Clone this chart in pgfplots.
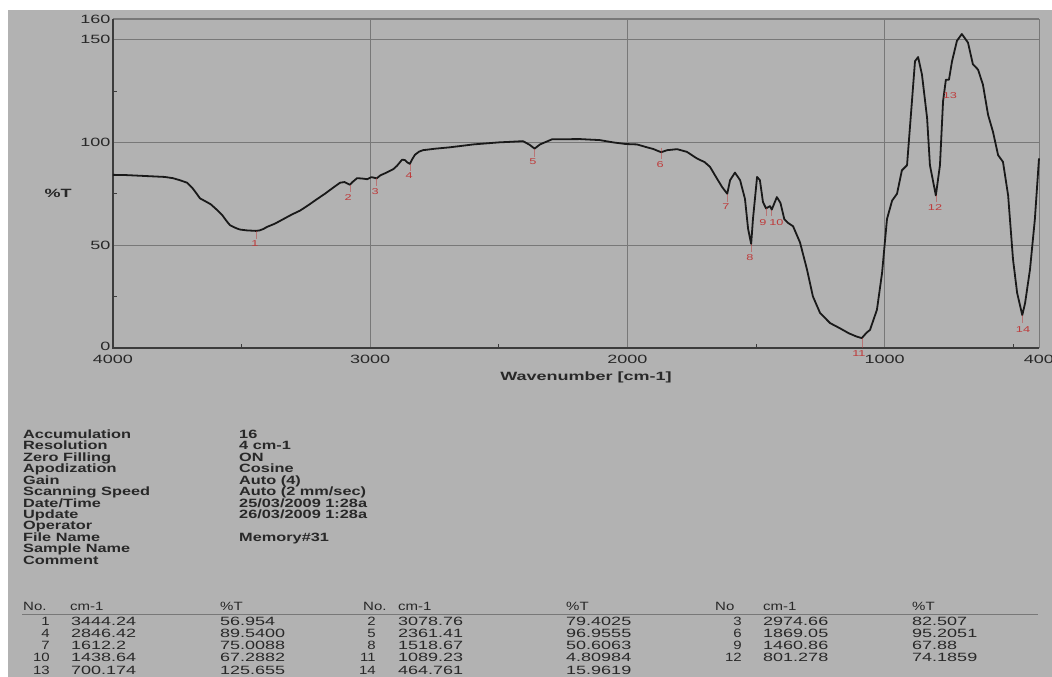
\documentclass[border=0pt]{standalone}
\usepackage{fontspec}
\setmainfont{Liberation Sans}
\usepackage{graphicx}
\usepackage{pgfplots}
\usepackage{pgfplotstable}
\pgfplotsset{compat=1.18}

\definecolor{paper}{RGB}{178,178,178}
\definecolor{ink}{RGB}{40,40,40}
\definecolor{curve}{RGB}{25,25,25}
\definecolor{gridgray}{RGB}{120,120,120}
\definecolor{axisdark}{RGB}{60,60,60}
\definecolor{peakred}{RGB}{190,60,60}

% wide printer-style lettering
\newcommand{\W}[1]{\scalebox{1.5}[1]{#1}}
\newcommand{\B}[1]{\scalebox{1.36}[1]{\bfseries #1}}
\newcommand{\N}[1]{\scalebox{1.25}[1]{#1}}
\newcommand{\T}{\fontsize{12bp}{14bp}\selectfont}
\newcommand{\Pk}{\fontsize{8.5bp}{10bp}\selectfont}

% FT-IR spectrum: wavenumber [cm-1], transmittance [%T]
\pgfplotstableread{
wn    T
4000  84.2
3950  84.1
3900  83.8
3850  83.5
3800  83.2
3767  82.6
3740  81.6
3712  80.4
3690  77.6
3675  75.1
3662  72.8
3640  71.3
3620  69.9
3596  67.2
3575  64.6
3560  62.0
3545  59.7
3520  58.2
3506  57.6
3480  57.2
3444  56.95
3430  57.2
3415  57.9
3401  58.9
3370  60.5
3339  62.6
3305  64.9
3273  66.8
3240  69.5
3207  72.4
3175  75.1
3145  77.9
3117  80.4
3100  80.7
3079  79.4
3070  80.6
3051  82.6
3030  82.4
3012  82.1
2995  83.1
2975  82.5
2960  84.0
2935  85.4
2910  87.0
2896  88.6
2876  91.6
2865  91.4
2856  90.3
2846  89.54
2838  91.5
2826  94.0
2810  95.5
2795  96.2
2750  96.9
2690  97.6
2600  99.0
2500  100.0
2450  100.3
2406  100.6
2380  98.8
2361  96.96
2340  99.0
2293  101.5
2184  101.6
2107  101.1
2056  100.0
2006  99.2
1963  99.0
1924  97.6
1900  96.8
1869  95.21
1846  96.2
1807  96.7
1769  95.4
1730  92.2
1700  90.4
1679  88.1
1652  82.4
1632  78.3
1612  75.01
1601  81.6
1582  85.3
1562  81.6
1543  72.5
1531  58.0
1519  50.61
1512  62.7
1496  83.2
1485  81.6
1473  70.9
1461  67.88
1446  69.0
1439  67.29
1419  73.4
1405  70.5
1390  62.6
1375  60.8
1356  59.2
1329  51.3
1302  38.2
1279  25.1
1251  17.0
1212  12.1
1174  9.6
1140  7.2
1110  5.6
1089  4.81
1070  7.5
1057  8.8
1030  18.6
1010  36.6
991   62.7
971   71.7
952   75.0
933   86.4
913   88.9
894   119.9
882   139.5
870   141.5
855   133.0
835   111.8
824   88.9
801   74.19
785   88.9
773   120.0
762   130.5
750   130.5
738   139.5
719   149.4
700   152.7
676   148.5
657   138.0
637   135.4
618   128.1
598   113.4
579   105.2
559   93.8
540   90.5
520   74.2
501   43.1
485   26.8
465   15.96
454   21.9
435   38.2
416   62.7
400   92.2
}\spectrum

\begin{document}
\begin{tikzpicture}
\useasboundingbox (0,0) rectangle (1052bp,-677bp);
\fill[white] (0,0) rectangle (1052bp,-677bp);
\fill[paper] (8bp,-10bp) rectangle (1052bp,-677bp);

\begin{axis}[
  at={(113bp,-348bp)}, anchor=south west,
  scale only axis, width=926bp, height=329bp,
  x dir=reverse, xmin=400, xmax=4000, ymin=0, ymax=160,
  axis line style={draw=none},
  clip=false,
  xtick={4000,3000,2000,1000,400},
  xticklabels={\W{4000},\W{3000},\W{2000},\W{1000},\W{400}},
  ytick={0,50,100,150,160},
  yticklabels={\raisebox{4bp}{\W{0}},\W{50},\W{100},\W{150},\W{160}},
  minor xtick={3500,2500,1500,500},
  minor ytick={25,75,125},
  xtick pos=bottom, ytick pos=left,
  tick align=inside,
  major tick length=6bp, minor tick length=4bp,
  tick style={draw=axisdark, line width=0.8bp},
  xticklabel style={font=\T, text=ink, yshift=-4bp},
  yticklabel style={font=\T, text=ink, xshift=1bp},
]
% grid
\draw[gridgray, line width=0.7bp]
  (axis cs:3000,0) -- (axis cs:3000,160)
  (axis cs:2000,0) -- (axis cs:2000,160)
  (axis cs:1000,0) -- (axis cs:1000,160)
  (axis cs:4000,50) -- (axis cs:400,50)
  (axis cs:4000,100) -- (axis cs:400,100)
  (axis cs:4000,150) -- (axis cs:400,150);
% frame
\draw[gridgray, line width=1.8bp] (axis cs:4000,160) -- (axis cs:400,160);
\draw[gridgray, line width=0.7bp] (axis cs:400,160) -- (axis cs:400,0);
\draw[axisdark, line width=1.6bp] (axis cs:4000,160) -- (axis cs:4000,0) -- (axis cs:400,0);

\addplot[curve, line width=1.8bp, line join=round] table[x=wn, y=T] {\spectrum};

% peak pick markers
\draw[peakred, opacity=0.5, line width=0.5bp]
  (axis cs:3444,56.9) -- (axis cs:3444,53)
  (axis cs:3079,79.4) -- (axis cs:3079,76)
  (axis cs:2975,82.5) -- (axis cs:2975,79)
  (axis cs:2846,89.5) -- (axis cs:2846,86)
  (axis cs:2361,96.9) -- (axis cs:2361,93)
  (axis cs:1869,97.5) -- (axis cs:1869,92)
  (axis cs:1612,75.0) -- (axis cs:1612,71)
  (axis cs:1519,50.6) -- (axis cs:1519,46.5)
  (axis cs:1461,67.9) -- (axis cs:1461,64)
  (axis cs:1439,67.3) -- (axis cs:1439,64)
  (axis cs:1089,4.8) -- (axis cs:1089,0)
  (axis cs:801,74.2) -- (axis cs:801,71)
  (axis cs:465,15.9) -- (axis cs:465,12);
\begin{scope}[every node/.style={text=peakred, font=\Pk, inner sep=0pt}]
\node at (axis cs:3448,50.6) {\W{1}};
\node at (axis cs:3086,73.0) {\W{2}};
\node at (axis cs:2981,75.9) {\W{3}};
\node at (axis cs:2849,83.7) {\W{4}};
\node at (axis cs:2367,90.5) {\W{5}};
\node at (axis cs:1873,89.0) {\W{6}};
\node at (axis cs:1617,68.6) {\W{7}};
\node at (axis cs:1524,43.8) {\W{8}};
\node at (axis cs:1473,60.8) {\W{9}};
\node at (axis cs:1421,60.8) {\W{10}};
\node at (axis cs:1100,-2.6) {\W{11}};
\node at (axis cs:804,68.1) {\W{12}};
\node at (axis cs:746,122.6) {\W{13}};
\node at (axis cs:462,8.8) {\W{14}};
\end{scope}
\end{axis}

% axis titles
\node[text=ink, font=\fontsize{12bp}{14bp}\selectfont\bfseries, anchor=west] at (41bp,-193bp) {\W{\%T}};
\node[text=ink, font=\fontsize{12bp}{14bp}\selectfont\bfseries] at (586bp,-377bp) {\W{Wavenumber [cm-1]}};

% measurement parameters
\begin{scope}[every node/.style={text=ink, font=\T, anchor=base west, inner sep=0pt}]
\node at (23bp,-438.3bp) {\B{Accumulation}};
\node at (23bp,-449.8bp) {\B{Resolution}};
\node at (23bp,-461.2bp) {\B{Zero Filling}};
\node at (23bp,-472.7bp) {\B{Apodization}};
\node at (23bp,-484.1bp) {\B{Gain}};
\node at (23bp,-495.6bp) {\B{Scanning Speed}};
\node at (23bp,-507.0bp) {\B{Date/Time}};
\node at (23bp,-518.5bp) {\B{Update}};
\node at (23bp,-529.9bp) {\B{Operator}};
\node at (23bp,-541.4bp) {\B{File Name}};
\node at (23bp,-552.8bp) {\B{Sample Name}};
\node at (23bp,-564.3bp) {\B{Comment}};
\node at (239bp,-438.3bp) {\B{16}};
\node at (239bp,-449.8bp) {\B{4 cm-1}};
\node at (239bp,-461.2bp) {\B{ON}};
\node at (239bp,-472.7bp) {\B{Cosine}};
\node at (239bp,-484.1bp) {\B{Auto (4)}};
\node at (239bp,-495.6bp) {\B{Auto (2 mm/sec)}};
\node at (239bp,-507.0bp) {\B{25/03/2009 1:28a}};
\node at (239bp,-518.5bp) {\B{26/03/2009 1:28a}};
\node at (239bp,-541.4bp) {\B{Memory\#31}};
\end{scope}

% peak table
\draw[gridgray, line width=0.9bp] (22bp,-614bp) -- (1038bp,-614bp);
\begin{scope}[every node/.style={text=ink, font=\T, inner sep=0pt}]
\node[anchor=base west] at (23bp,-610.3bp) {\N{No.}};
\node[anchor=base west] at (70bp,-610.3bp) {\N{cm-1}};
\node[anchor=base west] at (220bp,-610.3bp) {\N{\%T}};
\node[anchor=base west] at (363bp,-610.3bp) {\N{No.}};
\node[anchor=base west] at (398bp,-610.3bp) {\N{cm-1}};
\node[anchor=base west] at (566bp,-610.3bp) {\N{\%T}};
\node[anchor=base west] at (715bp,-610.3bp) {\N{No}};
\node[anchor=base west] at (763bp,-610.3bp) {\N{cm-1}};
\node[anchor=base west] at (912bp,-610.3bp) {\N{\%T}};
\foreach \n/\c/\t [count=\i from 0] in {1/3444.24/56.954, 4/2846.42/89.5400, 7/1612.2/75.0088, 10/1438.64/67.2882, 13/700.174/125.655}{
  \node[anchor=base east] at (50bp,{-625.3bp-12.2bp*\i}) {\N{\n}};
  \node[anchor=base west] at (71bp,{-625.3bp-12.2bp*\i}) {\W{\c}};
  \node[anchor=base west] at (220bp,{-625.3bp-12.2bp*\i}) {\W{\t}};
}
\foreach \n/\c/\t [count=\i from 0] in {2/3078.76/79.4025, 5/2361.41/96.9555, 8/1518.67/50.6063, 11/1089.23/4.80984, 14/464.761/15.9619}{
  \node[anchor=base east] at (376bp,{-625.3bp-12.2bp*\i}) {\N{\n}};
  \node[anchor=base west] at (398bp,{-625.3bp-12.2bp*\i}) {\W{\c}};
  \node[anchor=base west] at (566bp,{-625.3bp-12.2bp*\i}) {\W{\t}};
}
\foreach \n/\c/\t [count=\i from 0] in {3/2974.66/82.507, 6/1869.05/95.2051, 9/1460.86/67.88, 12/801.278/74.1859}{
  \node[anchor=base east] at (742bp,{-625.3bp-12.2bp*\i}) {\N{\n}};
  \node[anchor=base west] at (763bp,{-625.3bp-12.2bp*\i}) {\W{\c}};
  \node[anchor=base west] at (912bp,{-625.3bp-12.2bp*\i}) {\W{\t}};
}
\end{scope}
\end{tikzpicture}
\end{document}
